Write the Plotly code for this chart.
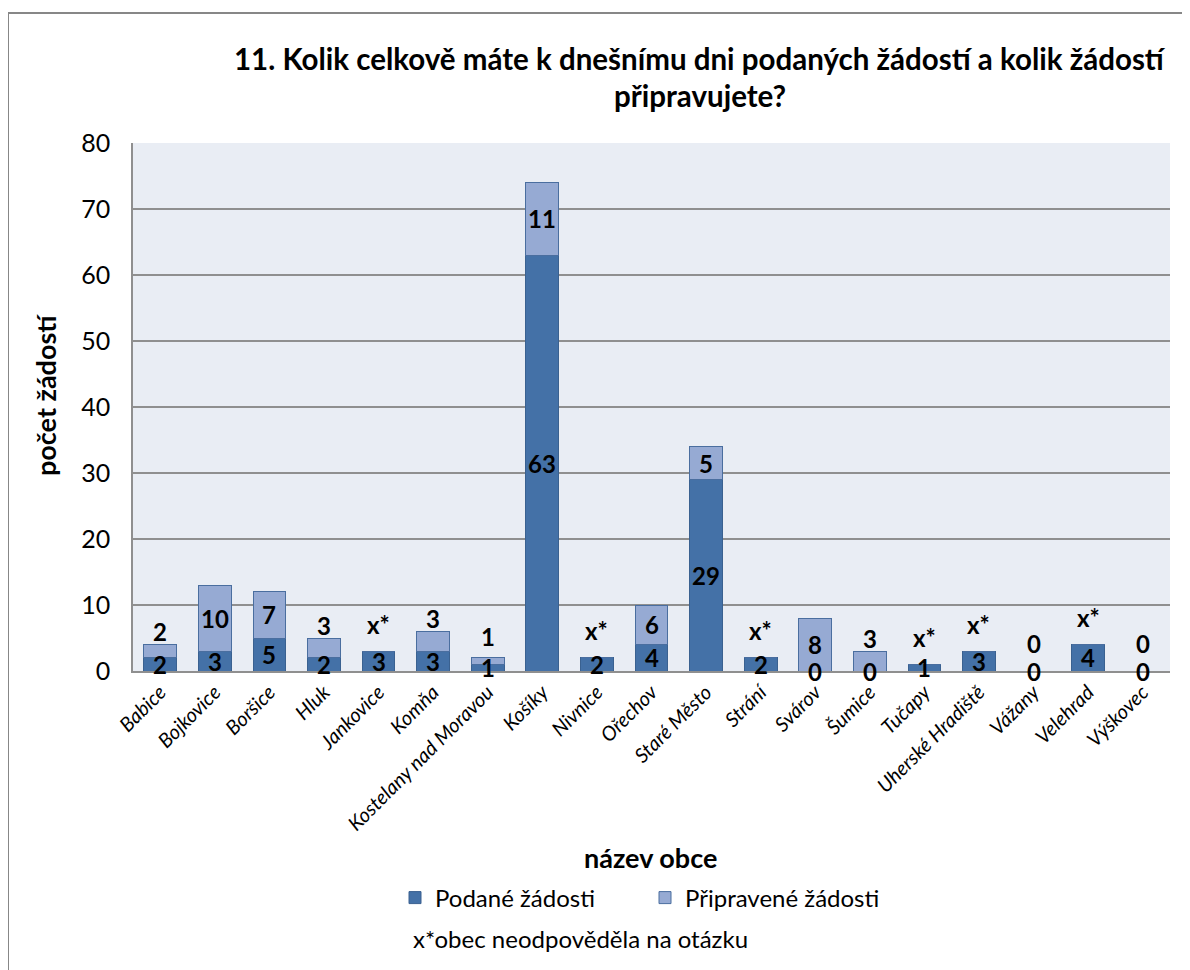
import plotly.graph_objects as go

cities = ["Babice", "Bojkovice", "Boršice", "Hluk", "Jankovice", "Komňa",
          "Kostelany nad Moravou", "Košíky", "Nivnice", "Ořechov", "Staré Město",
          "Strání", "Svárov", "Šumice", "Tučapy", "Uherské Hradiště", "Vážany",
          "Velehrad", "Výškovec"]
podane = [2, 3, 5, 2, 3, 3, 1, 63, 2, 4, 29, 2, 0, 0, 1, 3, 0, 4, 0]
pripravene = [2, 10, 7, 3, None, 3, 1, 11, None, 6, 5, None, 8, 3, None, None, 0, None, 0]
y_ticks = [0, 10, 20, 30, 40, 50, 60, 70, 80]
title_lines = ["11. Kolik celkově máte k dnešnímu dni podaných žádostí a kolik žádostí",
               "připravujete?"]

FONT = "Lato"
DARK = "#4471A7"
DARK_LINE = "#3A6190"
LIGHT = "#96AAD3"
LIGHT_LINE = "#4A6E9F"

# page body has an 8px margin; work in image pixel coords and convert
PL, PR, PT, PB = 133, 1170, 143, 671
PW, PH = PR - PL, PB - PT
Y_MAX = 80
PX_PER_UNIT = PH / Y_MAX


def px_x(x):
    return (x - PL) / PW


def px_y(y):
    return (PB - y) / PH


fig = go.Figure()
fig.add_trace(go.Bar(x=cities, y=podane, name="Podané žádosti",
                     marker=dict(color=DARK, line=dict(color=DARK_LINE, width=1))))
fig.add_trace(go.Bar(x=cities, y=[p if p is not None else 0 for p in pripravene],
                     name="Připravené žádosti",
                     marker=dict(color=LIGHT, line=dict(color=LIGHT_LINE, width=1))))

ann = []
lab_font = dict(family=FONT, size=24, color="black", weight="bold")
for c, a, b in zip(cities, podane, pripravene):
    ann.append(dict(x=c, y=a / 2, xref="x", yref="y", text=str(a), showarrow=False,
                    font=lab_font, yanchor="middle"))
    if b is None:
        ann.append(dict(x=c, y=a, xref="x", yref="y", text="x*", showarrow=False,
                        font=lab_font, yanchor="middle", yshift=27))
    elif b == 0:
        ann.append(dict(x=c, y=a, xref="x", yref="y", text="0", showarrow=False,
                        font=lab_font, yanchor="middle", yshift=28))
    elif b < 5:
        # sit above the bar top, clear of the lower label
        lower_px = a / 2 * PX_PER_UNIT
        top_px = (a + b) * PX_PER_UNIT
        shift = max(13, lower_px + 31 - top_px)
        ann.append(dict(x=c, y=a + b, xref="x", yref="y", text=str(b), showarrow=False,
                        font=lab_font, yanchor="middle", yshift=shift))
    else:
        ann.append(dict(x=c, y=a + b / 2, xref="x", yref="y", text=str(b), showarrow=False,
                        font=lab_font, yanchor="middle"))

# title (two lines)
for i, line in enumerate(title_lines):
    ann.append(dict(xref="paper", yref="paper", x=px_x(700), y=px_y(59 + 36 * i),
                    text=line, showarrow=False, xanchor="center", yanchor="middle",
                    font=dict(family=FONT, size=29.5, color="black", weight="bold")))
# axis titles
ann.append(dict(xref="paper", yref="paper", x=px_x(45), y=px_y(395),
                text="počet žádostí", showarrow=False, textangle=-90,
                xanchor="center", yanchor="middle",
                font=dict(family=FONT, size=27, color="black", weight="bold")))
ann.append(dict(xref="paper", yref="paper", x=px_x(650), y=px_y(857),
                text="název obce", showarrow=False, xanchor="center", yanchor="middle",
                font=dict(family=FONT, size=27, color="black", weight="bold")))
ann.append(dict(xref="paper", yref="paper", x=px_x(411), y=px_y(938),
                text="x*obec neodpověděla na otázku", showarrow=False,
                xanchor="left", yanchor="middle",
                font=dict(family=FONT, size=24, color="black")))

W, H = 1182, 962
fig.update_layout(
    width=W, height=H,
    margin=dict(l=PL - 8, r=W - (PR - 8), t=PT - 8, b=H - (PB - 8)),
    paper_bgcolor="white", plot_bgcolor="#E9EDF4",
    barmode="stack", bargap=0.4,
    font=dict(family=FONT, color="black"),
    annotations=ann,
    showlegend=True,
    legend=dict(orientation="h", x=px_x(395), y=px_y(898),
                xanchor="left", yanchor="middle", traceorder="normal",
                font=dict(family=FONT, size=24, color="black"),
                entrywidth=205, entrywidthmode="pixels"),
    shapes=[dict(type="rect", xref="paper", yref="paper",
                 x0=px_x(8), x1=1.3, y0=-1.0, y1=px_y(13),
                 line=dict(color="#878787", width=2), fillcolor="rgba(0,0,0,0)",
                 layer="below")],
)
fig.update_yaxes(range=[0, Y_MAX], tickvals=y_ticks, showgrid=True, gridcolor="#8F8F8F",
                 gridwidth=1.5, zeroline=False, showline=True, linecolor="#8F8F8F",
                 linewidth=1.5, ticks="", tickfont=dict(family=FONT, size=25, color="black"),
                 ticklabelstandoff=16)
fig.update_xaxes(tickangle=-45, showline=True, linecolor="#8F8F8F", linewidth=1.5,
                 tickfont=dict(family=FONT, size=20, color="black", style="italic"),
                 ticks="", showgrid=False)

fig.write_html("out.html")
